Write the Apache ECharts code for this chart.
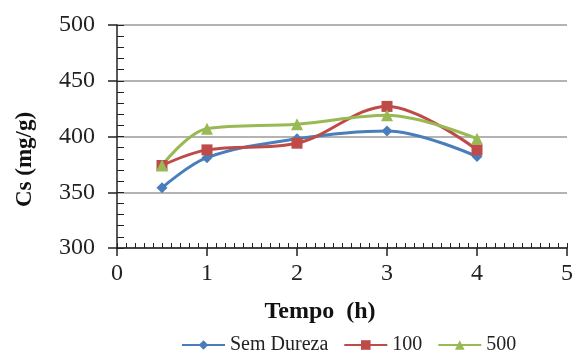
<!DOCTYPE html>
<html><head><meta charset="utf-8">
<script src="https://cdn.jsdelivr.net/npm/echarts@6/dist/echarts.min.js"></script>
<style>html,body{margin:0;padding:0;background:#fff}#c{width:576px;height:352px}</style>
</head><body><div id="c"></div>
<script>
const tempo = [0.5, 1, 2, 3, 4];
const semDureza = [354, 381, 398, 405, 382];
const dureza100 = [374, 388, 394, 427, 388];
const dureza500 = [374, 407, 411, 419, 398];
const seriesNames = ['Sem Dureza', '100', '500'];
const yTicks = [300, 350, 400, 450, 500];
const xTicks = [0, 1, 2, 3, 4, 5];

const font = 'Liberation Serif';
function pairs(vals){ return tempo.map((t,i)=>[t, vals[i]]); }
const chart = echarts.init(document.getElementById('c'));
chart.setOption({
  animation: false,
  grid: {left: 117, right: 6, top: 25, bottom: 104},
  legend: {
    top: 330, left: 176, itemWidth: 43, itemHeight: 12, itemGap: 15,
    textStyle: {fontFamily: font, fontSize: 20, color: '#222'},
    data: seriesNames
  },
  xAxis: [{
    type: 'value', min: xTicks[0], max: xTicks[xTicks.length-1], interval: 1,
    axisLine: {lineStyle: {color: '#222', width: 1.5}},
    axisTick: {show: true, inside: false, length: 8, lineStyle: {color: '#222', width: 1.5}},
    axisLabel: {fontFamily: font, fontSize: 24, color: '#222', margin: 14},
    splitLine: {show: false},
    name: 'Tempo  (h)', nameLocation: 'middle', nameGap: 52,
    nameTextStyle: {fontFamily: font, fontSize: 24, fontWeight: 'bold', color: '#111', padding: [0, 44, 0, 0]}
  }, {
    type: 'value', min: 0, max: 5, interval: 0.1, position: 'bottom',
    axisLine: {show: false},
    axisTick: {show: true, inside: true, length: 5, lineStyle: {color: '#222', width: 1}},
    axisLabel: {show: false}, splitLine: {show: false}
  }],
  yAxis: [{
    type: 'value', min: yTicks[0], max: yTicks[yTicks.length-1], interval: 50,
    axisLine: {show: true, lineStyle: {color: '#222', width: 1.5}},
    axisTick: {show: true, inside: false, length: 9, lineStyle: {color: '#222', width: 1.5}},
    axisLabel: {fontFamily: font, fontSize: 24, color: '#222', margin: 22},
    splitLine: {show: true, lineStyle: {color: '#9a9a9a', width: 1.5}},
    name: 'Cs (mg/g)', nameLocation: 'middle', nameGap: 80,
    nameTextStyle: {fontFamily: font, fontSize: 23, fontWeight: 'bold', color: '#111', padding: [0, 46, 0, 0]}
  }, {
    type: 'value', min: 300, max: 500, interval: 10, position: 'left',
    axisLine: {show: false},
    axisTick: {show: true, inside: true, length: 7, lineStyle: {color: '#222', width: 1}},
    axisLabel: {show: false}, splitLine: {show: false}
  }],
  series: [
    {name: seriesNames[0], type: 'line', smooth: 0.35, data: pairs(semDureza),
     symbol: 'diamond', symbolSize: 11, color: '#4a7ebb', lineStyle: {width: 3}},
    {name: seriesNames[1], type: 'line', smooth: 0.35, data: pairs(dureza100),
     symbol: 'rect', symbolSize: 11, color: '#be4b48', lineStyle: {width: 3}},
    {name: seriesNames[2], type: 'line', smooth: 0.35, data: pairs(dureza500),
     symbol: 'triangle', symbolSize: 12, color: '#98b954', lineStyle: {width: 3}}
  ]
});
</script></body></html>
